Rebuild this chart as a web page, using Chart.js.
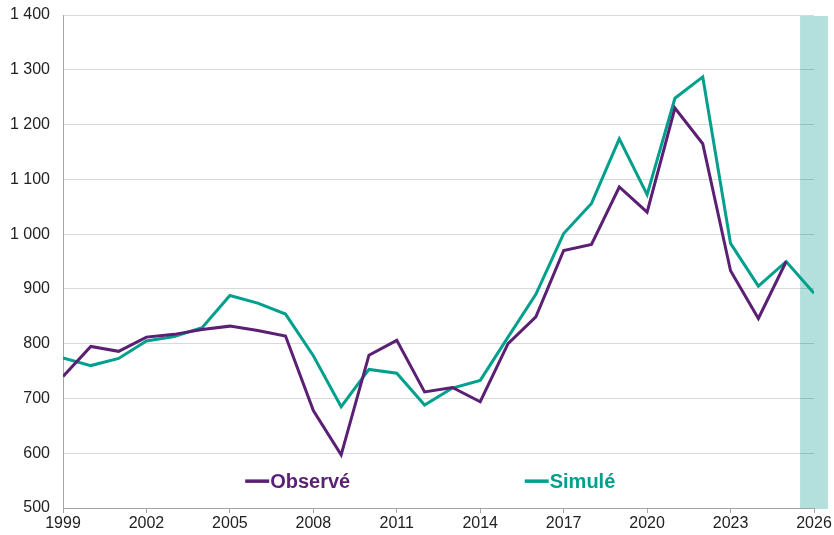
<!DOCTYPE html>
<html>
<head>
<meta charset="utf-8">
<script src="https://cdn.jsdelivr.net/npm/chart.js@4/dist/chart.umd.min.js"></script>
<style>
  html, body { margin: 0; padding: 0; background: #fff; }
  #wrap { width: 834px; height: 535px; }
</style>
</head>
<body>
<div id="wrap"><canvas id="chart" width="834" height="535"></canvas></div>
<script>
// years and series
const years = [1999, 2000, 2001, 2002, 2003, 2004, 2005, 2006, 2007, 2008, 2009, 2010, 2011, 2012,
  2013, 2014, 2015, 2016, 2017, 2018, 2019, 2020, 2021, 2022, 2023, 2024, 2025, 2026];
const observed = [740, 795, 786, 812, 817, 826, 832, 824, 814, 678, 597, 779, 806, 712,
  720, 694, 800, 849, 970, 981, 1086, 1040, 1230, 1165, 933, 846, 950, null];
const simulated = [774, 760, 773, 805, 813, 829, 888, 874, 854, 778, 685, 753, 746, 688,
  719, 733, 812, 890, 1001, 1056, 1174, 1072, 1248, 1287, 983, 905, 950, 892];
const forecastBand = [2025.5, 2026.5];
const yTicks = [500, 600, 700, 800, 900, 1000, 1100, 1200, 1300, 1400];

const purple = '#5b1f73';
const teal = '#00a08c';
const font = "'Liberation Sans', Arial, sans-serif";

// shaded forecast year, drawn under the grid
const bandPlugin = {
  id: 'band',
  beforeDraw(chart) {
    const { ctx, scales: { x, y } } = chart;
    const x0 = x.getPixelForValue(forecastBand[0]);
    const x1 = x.getPixelForValue(forecastBand[1]);
    ctx.save();
    ctx.fillStyle = '#b3e0dc';
    ctx.fillRect(x0, y.top + 1, x1 - x0, y.bottom - y.top);
    ctx.restore();
  }
};

// legend inside the plot, line + bold coloured label
const inlineLegend = {
  id: 'inlineLegend',
  afterDatasetsDraw(chart) {
    const { ctx, scales: { x, y } } = chart;
    const spots = [2005.55, 2015.6];
    const ly = y.getPixelForValue(549);
    ctx.save();
    ctx.font = 'bold 20px ' + font;
    ctx.textBaseline = 'middle';
    chart.data.datasets.forEach((ds, i) => {
      const lx = x.getPixelForValue(spots[i]);
      ctx.strokeStyle = ds.borderColor;
      ctx.lineWidth = 3.5;
      ctx.beginPath();
      ctx.moveTo(lx, ly);
      ctx.lineTo(lx + 24, ly);
      ctx.stroke();
      ctx.fillStyle = ds.borderColor;
      ctx.fillText(ds.label, lx + 25, ly + 1);
    });
    ctx.restore();
  }
};

new Chart(document.getElementById('chart'), {
  type: 'line',
  data: {
    datasets: [
      {
        label: 'Observé',
        data: years.map((yr, i) => ({ x: yr, y: observed[i] })),
        borderColor: purple,
        borderWidth: 3,
        pointRadius: 0,
        tension: 0
      },
      {
        label: 'Simulé',
        data: years.map((yr, i) => ({ x: yr, y: simulated[i] })),
        borderColor: teal,
        borderWidth: 3,
        pointRadius: 0,
        tension: 0
      }
    ]
  },
  options: {
    responsive: false,
    animation: false,
    layout: { padding: { top: 15, right: 20, left: 0, bottom: 0 } },
    plugins: { legend: { display: false }, tooltip: { enabled: false } },
    scales: {
      x: {
        type: 'linear',
        min: 1999,
        max: 2026,
        afterFit(axis) { axis.height = 27; axis.paddingRight = 0; axis.paddingLeft = 0; },
        ticks: {
          stepSize: 3,
          padding: 1,
          color: '#222',
          font: { family: font, size: 16 },
          maxRotation: 0,
          callback: v => String(v)
        },
        grid: { display: true, drawOnChartArea: false, tickLength: 5, color: '#a6a6a6' },
        border: { color: '#a6a6a6', width: 1 }
      },
      y: {
        min: 500,
        max: 1400,
        afterFit(axis) { axis.width = 63; axis.paddingTop = 0; axis.paddingBottom = 0; },
        afterBuildTicks(axis) { axis.ticks = yTicks.map(v => ({ value: v })); },
        ticks: {
          padding: 13,
          color: '#222',
          font: { family: font, size: 16 },
          callback: v => v >= 1000 ? String(v).replace(/(\d)(\d{3})$/, '$1 $2') : String(v)
        },
        grid: { color: 'rgba(0,0,0,0.15)', drawTicks: false },
        border: { color: '#a6a6a6', width: 1 }
      }
    }
  },
  plugins: [bandPlugin, inlineLegend]
});
</script>
</body>
</html>
